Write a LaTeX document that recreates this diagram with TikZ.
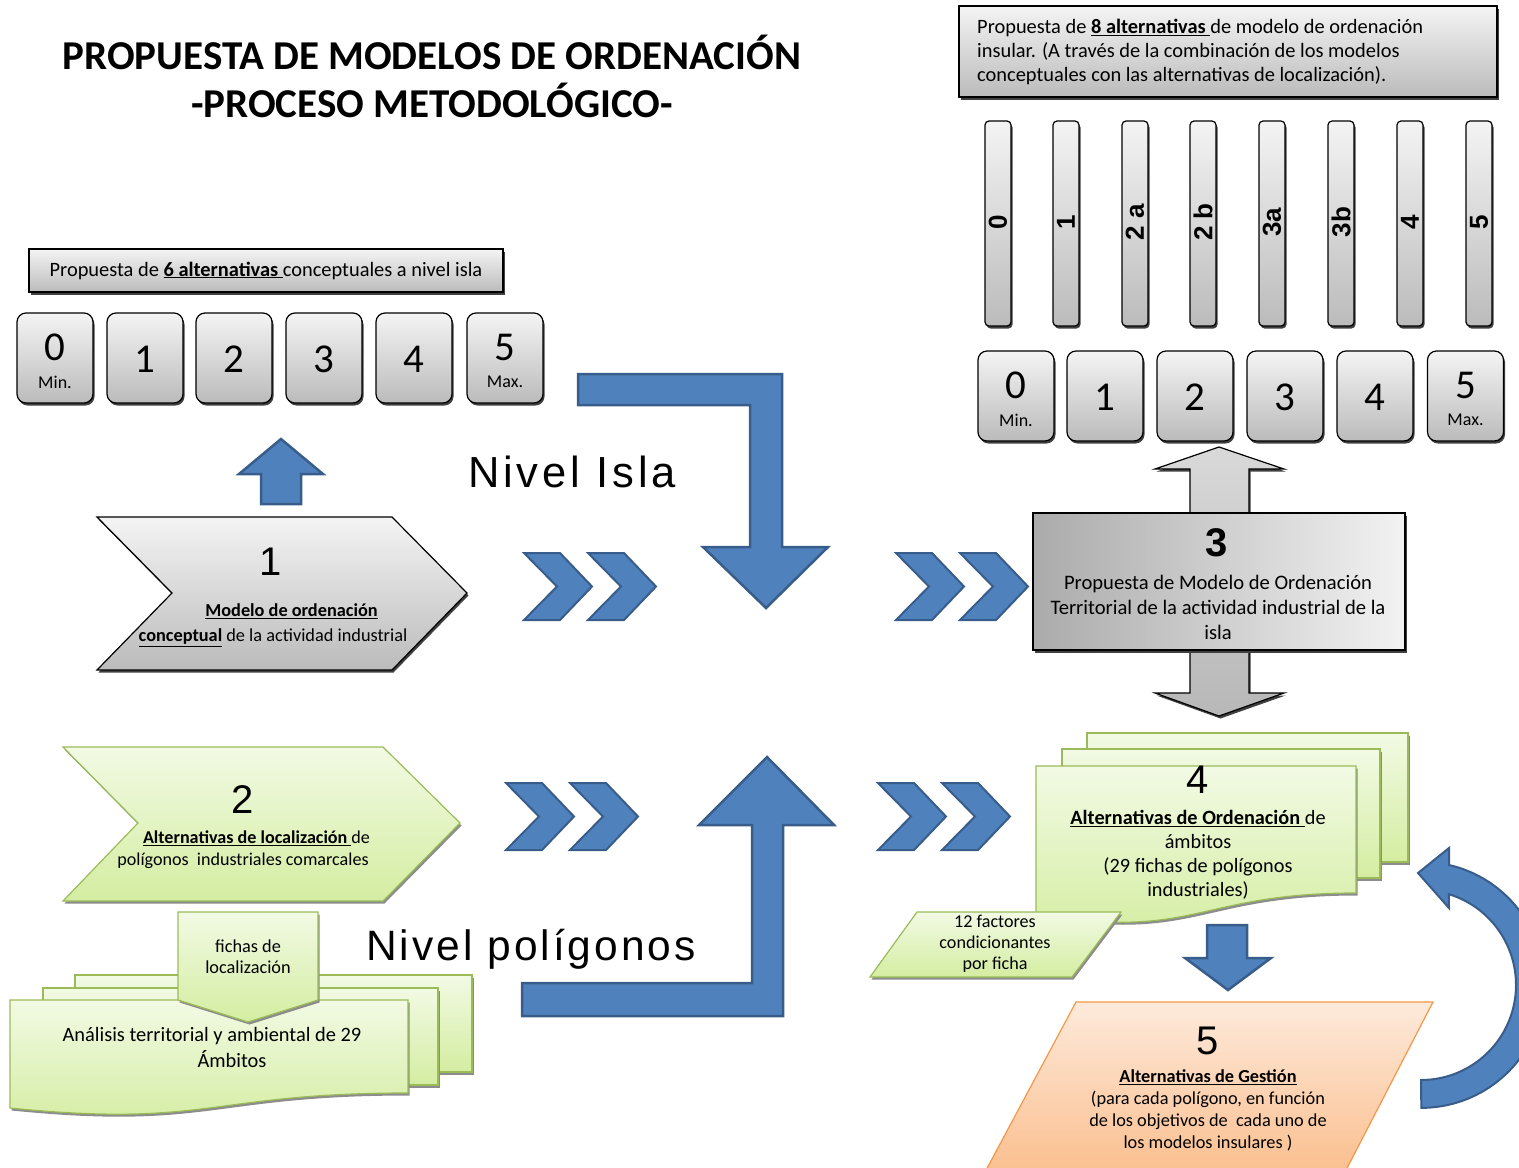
\documentclass[tikz,border=0pt]{standalone}
\usepackage{fontspec}
\setmainfont{Carlito}
\newfontfamily\arialf{Liberation Sans}
\newfontfamily\nivelf[LetterSpace=9]{Liberation Sans}
\newfontfamily\nivelpf[LetterSpace=7]{Liberation Sans}
\usetikzlibrary{shadows}
\definecolor{bluef}{HTML}{4F81BD}
\definecolor{blued}{HTML}{385D8A}
\definecolor{greenb}{HTML}{9BBB59}
\definecolor{greent}{HTML}{F2FAE4}
\definecolor{greenbot}{HTML}{D4EDA1}
\definecolor{orb}{HTML}{F79646}
\definecolor{ort}{HTML}{FDEADB}
\definecolor{orbot}{HTML}{FBBF8F}
\definecolor{gtop}{HTML}{F4F4F4}
\definecolor{gbot}{HTML}{BBBBBB}
\newcommand{\fsz}[2]{\fontsize{#1}{#2}\selectfont}
\tikzset{
  bluearrow/.style={fill=bluef, draw=blued, line width=2.5pt, line join=miter},
  gshadow/.style={drop shadow={shadow xshift=1.5pt, shadow yshift=-2.5pt, fill=black!75, opacity=1}},
  graybox/.style={draw=black, line width=1.2pt, top color=gtop, bottom color=gbot, gshadow},
  keybox/.style={graybox, rounded corners=9pt, minimum width=76pt, minimum height=90pt, inner sep=0pt},
  barbox/.style={graybox, rounded corners=4pt, minimum width=26pt, minimum height=205pt, inner sep=0pt},
  greenshape/.style={draw=greenb, line width=1.2pt, top color=greent, bottom color=greenbot, drop shadow={shadow xshift=1.5pt, shadow yshift=-2.5pt, fill=black!45, opacity=1}},
  orshape/.style={draw=orb, line width=1.2pt, top color=ort, bottom color=orbot},
  txt/.style={inner sep=0pt, align=center},
  numtxt/.style={inner sep=0pt, font=\fsz{41}{41}},
  subtxt/.style={inner sep=0pt, font=\fsz{18}{18}},
  bignum/.style={inner sep=0pt, font=\arialf\fsz{40}{40}},
  bartxt/.style={inner sep=0pt, rotate=90, font=\arialf\bfseries\fsz{26}{26}},
  dchev/.pic={
    \draw[bluearrow, line width=2pt] (0,0) -- (36,0) -- (68,33.5) -- (36,67) -- (0,67) -- (33,33.5) -- cycle;
    \draw[bluearrow, line width=2pt] (64,0) -- (100,0) -- (132,33.5) -- (100,67) -- (64,67) -- (97,33.5) -- cycle;
  }
}
\begin{document}
\begin{tikzpicture}[x=1pt,y=-1pt]
\useasboundingbox (0,0) rectangle (1519,1168);
\begin{scope}
\clip (0,0) rectangle (1519,1168);

% ---------- title
\node[txt, font=\bfseries\fsz{41}{48}] (title) at (432,76) {PROPUESTA DE MODELOS DE ORDENACIÓN\\-PROCESO METODOLÓGICO-};

% ---------- box A and left keys
\node[graybox, minimum width=474pt, minimum height=43pt, inner sep=0pt, font=\fsz{20.4}{24}] (boxA) at (266,270.5) {Propuesta de \underline{\textbf{6 alternativas }}conceptuales a nivel isla};
\foreach \i/\x in {0/55,1/145,2/234,3/324,4/414,5/505} \node[keybox] (kl\i) at (\x,358) {};
\node[numtxt] (kl0n) at (55,347) {0};
\node[subtxt] (kl0s) at (55,382) {Min.};
\node[numtxt] (kl1n) at (145,359) {1};
\node[numtxt] (kl2n) at (234,359) {2};
\node[numtxt] (kl3n) at (324,359) {3};
\node[numtxt] (kl4n) at (414,359) {4};
\node[numtxt] (kl5n) at (505,347) {5};
\node[subtxt] (kl5s) at (505,382) {Max.};

% ---------- small up arrow
\draw[bluearrow] (281,439) -- (323,474) -- (301,474) -- (301,504) -- (261,504) -- (261,474) -- (239,474) -- cycle;

% ---------- chevron 1
\draw[graybox] (97,517) -- (392,517) -- (467,593) -- (392,670) -- (97,670) -- (172,593) -- cycle;
\node[bignum] (n1num) at (271,562) {1};
\node[txt, font=\fsz{18.3}{25}] (n1txt) at (273,625) {\hspace*{37pt}\underline{\textbf{Modelo de ordenación}}\\\underline{\textbf{conceptual}} de la actividad industrial};

% ---------- chevron 2 (green)
\draw[greenshape] (63,747) -- (383,747) -- (460,823) -- (383,901) -- (63,901) -- (138,823) -- cycle;
\node[bignum] (n2num) at (243,800) {2};
\node[txt, font=\fsz{18.1}{22}] (n2txt) at (243,850) {\hspace*{27pt}\underline{\textbf{Alternativas de localización }}de\\polígonos\ \ industriales comarcales};

% ---------- bottom-left documents
\draw[greenshape] (75,975) rectangle (472,1072);
\draw[greenshape] (43,988) rectangle (438,1085);
\draw[greenshape] (10,1000) -- (408,1000) -- (408,1093) .. controls (209,1093) and (209,1128) .. (10,1108) -- cycle;
\node[txt, font=\fsz{20.4}{23}] (docl1) at (212,1036) {Análisis territorial y ambiental de 29};
\node[txt, font=\fsz{20.4}{23}] (docl2) at (232,1059) {Ámbitos};
\draw[greenshape] (178,912) -- (318,912) -- (318,1000) -- (248,1022) -- (178,1000) -- cycle;
\node[txt, font=\fsz{18.3}{21}] (fichas) at (248,957) {fichas de\\localización};

% ---------- double chevrons
\pic at (524,553) {dchev};
\pic at (506,783) {dchev};
\pic at (896,553) {dchev};
\pic at (878,783) {dchev};

% ---------- L arrows
\draw[bluearrow] (578,374) -- (782,374) -- (782,547) -- (828,547) -- (766,608) -- (703,547) -- (750,547) -- (750,405) -- (578,405) -- cycle;
\draw[bluearrow] (522,1016) -- (783,1016) -- (783,825) -- (834,825) -- (767,757) -- (699,825) -- (752,825) -- (752,983) -- (522,983) -- cycle;
\node[inner sep=0pt, anchor=base, font=\nivelf\fsz{43.5}{44}] (nisla) at (572,487) {Nivel Isla};
\node[inner sep=0pt, anchor=base, font=\nivelpf\fsz{42.5}{44}] (npol) at (531,960) {Nivel polígonos};

% ---------- top-right box and bars
\node[graybox, minimum width=538pt, minimum height=91pt, inner sep=0pt] (boxB) at (1228,51.5) {};
\node[txt, align=left, anchor=west, font=\fsz{20.4}{24}] (boxBt) at (977,52) {Propuesta de \underline{\textbf{8 alternativas }}de modelo de ordenación\\insular. (A través de la combinación de los modelos\\conceptuales con las alternativas de localización).};
\foreach \i/\x/\l in {0/998/0,1/1066/1,2/1135/2 a,3/1203/2 b,4/1272/3a,5/1341/3b,6/1410/4,7/1479/5} {
  \node[barbox] (bar\i) at (\x,223.5) {};
  \node[bartxt] (bar\i t) at (\x,222) {\l};
}

% ---------- right keys
\foreach \i/\x in {0/1016,1/1105,2/1195,3/1285,4/1375,5/1465.5} \node[keybox] (kr\i) at (\x,396) {};
\node[numtxt] (kr0n) at (1016,385) {0};
\node[subtxt] (kr0s) at (1016,420) {Min.};
\node[numtxt] (kr1n) at (1105,397) {1};
\node[numtxt] (kr2n) at (1195,397) {2};
\node[numtxt] (kr3n) at (1285,397) {3};
\node[numtxt] (kr4n) at (1375,397) {4};
\node[numtxt] (kr5n) at (1465.5,385) {5};
\node[subtxt] (kr5s) at (1465.5,420) {Max.};

% ---------- node 3 with double arrow
\draw[draw=black, line width=1.2pt, top color=black!15, bottom color=black!28, gshadow] (1219,447) -- (1284,469) -- (1249,469) -- (1249,693) -- (1284,693) -- (1219,716) -- (1155,693) -- (1190,693) -- (1190,469) -- (1155,469) -- cycle;
\node[draw=black, line width=1.5pt, left color=black!33, right color=black!5, gshadow, minimum width=372pt, minimum height=137pt, inner sep=0pt] (n3) at (1219,581.5) {};
\node[inner sep=0pt, font=\arialf\bfseries\fsz{40}{40}] (n3num) at (1217,543) {3};
\node[txt, font=\fsz{20.6}{25}] (n3txt) at (1218,607) {Propuesta de Modelo de Ordenación\\Territorial de la actividad industrial de la\\isla};

% ---------- node 4 documents
\draw[greenshape] (1087,733) rectangle (1408,862);
\draw[greenshape] (1062,749) rectangle (1380,878);
\draw[greenshape] (1036,766) -- (1356,766) -- (1356,893) .. controls (1196,893) and (1196,941) .. (1036,914) -- cycle;
\node[bignum] (n4num) at (1198,780) {4};
\node[txt, font=\fsz{20.3}{24}] (n4txt) at (1198,855) {\underline{\textbf{Alternativas de Ordenación }}de\\ámbitos\\(29 fichas de polígonos\\industriales)};
\draw[greenshape] (917,912) -- (1121,912) -- (1072,977) -- (870,977) -- cycle;
\node[txt, font=\fsz{18.1}{21}] (n4f) at (995,944) {12 factores\\condicionantes\\por ficha};

% ---------- down arrow 4 -> 5
\draw[bluearrow] (1207,925) -- (1247,925) -- (1247,958) -- (1271,958) -- (1228,990) -- (1185,958) -- (1207,958) -- cycle;

% ---------- node 5
\draw[orshape] (1076,1002) -- (1433,1002) -- (1345,1172) -- (985,1172) -- cycle;
\node[bignum] (n5num) at (1208,1041) {5};
\node[txt, font=\fsz{18.3}{22}] (n5txt) at (1208,1110) {\underline{\textbf{Alternativas de Gestión}}\\(para cada polígono, en función\\de los objetivos de\ \ cada uno de\\los modelos insulares )};

% ---------- curved return arrow
\draw[bluearrow, line width=2pt] (1449,865) arc[start angle=-77, end angle=90, radius=123] -- (1421,1080) arc[start angle=90, end angle=-73, radius=95] -- (1449,908) -- (1418,873) -- (1449,848) -- cycle;
\end{scope}
\end{tikzpicture}
\end{document}
